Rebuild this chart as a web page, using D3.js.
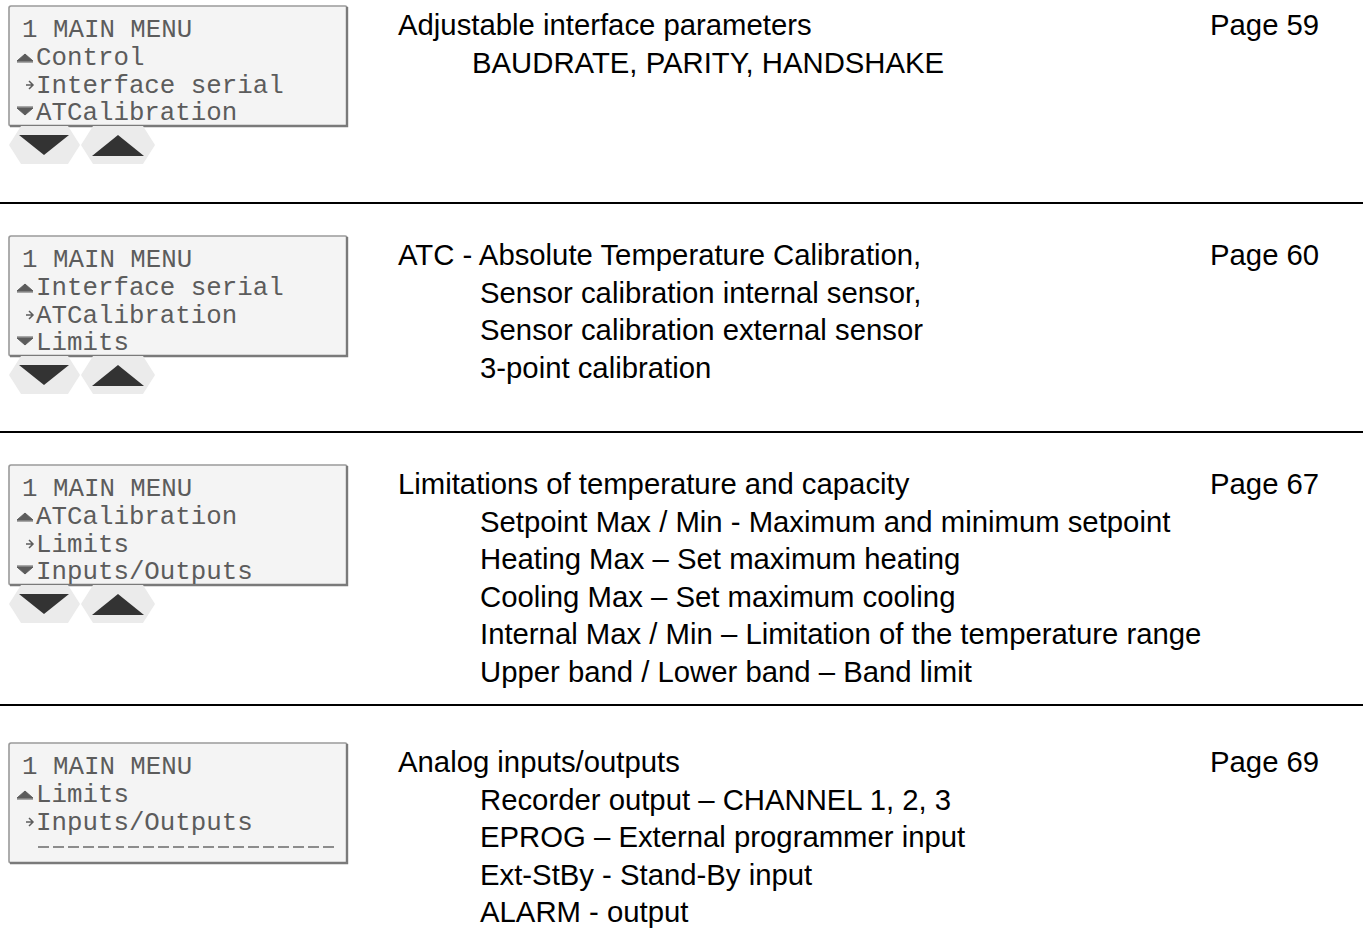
<!DOCTYPE html>
<html>
<head>
<meta charset="utf-8">
<script src="https://cdn.jsdelivr.net/npm/d3@7/dist/d3.min.js"></script>
<style>
  html, body { margin: 0; padding: 0; background: #fff; }
  svg { display: block; }
</style>
</head>
<body>
<script>
// ---------------- data ----------------
const lcdHeader = "1 MAIN MENU";
const lcdPrev    = ["Control", "Interface serial", "ATCalibration", "Limits"];
const lcdCurrent = ["Interface serial", "ATCalibration", "Limits", "Inputs/Outputs"];
const lcdNext    = ["ATCalibration", "Limits", "Inputs/Outputs", null];
const hasButtons = [true, true, true, false];

const titles = [
  "Adjustable interface parameters",
  "ATC - Absolute Temperature Calibration,",
  "Limitations of temperature and capacity",
  "Analog inputs/outputs"
];
const subItems = [
  ["BAUDRATE, PARITY, HANDSHAKE"],
  ["Sensor calibration internal sensor,", "Sensor calibration external sensor", "3-point calibration"],
  ["Setpoint Max / Min - Maximum and minimum setpoint",
   "Heating Max \u2013 Set maximum heating",
   "Cooling Max \u2013 Set maximum cooling",
   "Internal Max / Min \u2013 Limitation of the temperature range",
   "Upper band / Lower band \u2013 Band limit"],
  ["Recorder output \u2013 CHANNEL 1, 2, 3",
   "EPROG \u2013 External programmer input",
   "Ext-StBy - Stand-By input",
   "ALARM - output"]
];
const pages = ["Page 59", "Page 60", "Page 67", "Page 69"];

// ---------------- layout ----------------
const W = 1367, H = 929;
const boxTops = [6, 236, 465, 743];
const sepYs = [203, 432, 705];
const titleX = 398, indentX = [472, 480, 480, 480], pageX = 1210;
const lineStep = 37.5, firstBaseline = 29;

const svg = d3.select("body").append("svg")
  .attr("width", W).attr("height", H).attr("viewBox", `0 0 ${W} ${H}`);
svg.append("rect").attr("width", W).attr("height", H).attr("fill", "#fff");

// separators
svg.selectAll("line.sep").data(sepYs).join("line")
  .attr("class", "sep")
  .attr("x1", 0).attr("x2", 1363)
  .attr("y1", d => d).attr("y2", d => d)
  .attr("stroke", "#000").attr("stroke-width", 2.2);

const sections = svg.selectAll("g.section").data(d3.range(4)).join("g")
  .attr("class", "section")
  .attr("transform", i => `translate(0,${boxTops[i]})`);

// LCD box
const boxW = 338, boxH = 120, boxX = 9;
sections.append("rect")
  .attr("x", boxX).attr("y", 0).attr("width", boxW).attr("height", boxH)
  .attr("rx", 2)
  .attr("fill", "#f4f4f4").attr("stroke", "#9a9a9a").attr("stroke-width", 1.6);
sections.append("path")
  .attr("d", `M${boxX + boxW},${1} L${boxX + boxW},${boxH} L${boxX + 1},${boxH}`)
  .attr("fill", "none").attr("stroke", "#7a7a7a").attr("stroke-width", 2.4);

// LCD rows
const lcdFont = "'Liberation Mono', 'DejaVu Sans Mono', monospace";
const lcdSize = 25.8;
const rowY = [31, 59, 87, 114];
const lcdColor = "#5c5c5c";
sections.append("text")
  .attr("x", 22).attr("y", rowY[0])
  .attr("font-family", lcdFont).attr("font-size", lcdSize).attr("fill", lcdColor)
  .attr("xml:space", "preserve")
  .text(lcdHeader);
sections.append("text")
  .attr("x", 36).attr("y", rowY[1])
  .attr("font-family", lcdFont).attr("font-size", lcdSize).attr("fill", lcdColor)
  .text(i => lcdPrev[i]);
sections.append("text")
  .attr("x", 36).attr("y", rowY[2])
  .attr("font-family", lcdFont).attr("font-size", lcdSize).attr("fill", lcdColor)
  .text(i => lcdCurrent[i]);
sections.filter(i => lcdNext[i] !== null).append("text")
  .attr("x", 36).attr("y", rowY[3])
  .attr("font-family", lcdFont).attr("font-size", lcdSize).attr("fill", lcdColor)
  .text(i => lcdNext[i]);
// dashed placeholder row when there is no next item
sections.filter(i => lcdNext[i] === null).append("line")
  .attr("x1", 38).attr("x2", 337).attr("y1", rowY[3] - 10).attr("y2", rowY[3] - 10)
  .attr("stroke", "#6a6a6a").attr("stroke-width", 1.4)
  .attr("stroke-dasharray", "11,4");

// row markers: up, arrow, down
sections.append("path")
  .attr("d", `M17,${rowY[1] - 4} L33,${rowY[1] - 4} L25,${rowY[1] - 11} Z M17,${rowY[1] - 3} L33,${rowY[1] - 3}`)
  .attr("fill", lcdColor).attr("stroke", lcdColor).attr("stroke-width", 1);
sections.append("path")
  .attr("d", `M26,${rowY[2] - 8} L33,${rowY[2] - 8} M29,${rowY[2] - 12} L33,${rowY[2] - 8} L29,${rowY[2] - 4}`)
  .attr("fill", "none").attr("stroke", lcdColor).attr("stroke-width", 1.5);
sections.filter(i => lcdNext[i] !== null).append("path")
  .attr("d", `M17,${rowY[3] - 13} L33,${rowY[3] - 13} M17,${rowY[3] - 12} L33,${rowY[3] - 12} L25,${rowY[3] - 5} Z`)
  .attr("fill", lcdColor).attr("stroke", lcdColor).attr("stroke-width", 1);

// buttons (hexagons with triangles)
const btn = sections.filter(i => hasButtons[i]);
const hex = (x0, x1, x2, x3) =>
  `M${x0},139 L${x1},120 L${x2},120 L${x3},139 L${x2},158 L${x1},158 Z`;
btn.append("path").attr("d", hex(9, 21, 68, 80)).attr("fill", "#ebebeb");
btn.append("path").attr("d", hex(81, 93, 143, 155)).attr("fill", "#ebebeb");
btn.append("path").attr("d", "M19,129 L69,129 L44,149 Z").attr("fill", "#333");
btn.append("path").attr("d", "M92,150 L144,150 L118,129 Z").attr("fill", "#333");

// description text
const bodyFont = "'Liberation Sans', Arial, Helvetica, sans-serif";
const fs = 29.3;
sections.append("text")
  .attr("x", titleX).attr("y", firstBaseline)
  .attr("font-family", bodyFont).attr("font-size", fs).attr("fill", "#000")
  .text(i => titles[i]);
sections.append("text")
  .attr("x", pageX).attr("y", firstBaseline)
  .attr("font-family", bodyFont).attr("font-size", fs).attr("fill", "#000")
  .text(i => pages[i]);
sections.each(function(i) {
  d3.select(this).selectAll("text.sub").data(subItems[i]).join("text")
    .attr("class", "sub")
    .attr("x", indentX[i])
    .attr("y", (d, k) => firstBaseline + (k + 1) * lineStep)
    .attr("font-family", bodyFont).attr("font-size", fs).attr("fill", "#000")
    .text(d => d);
});
</script>
</body>
</html>
